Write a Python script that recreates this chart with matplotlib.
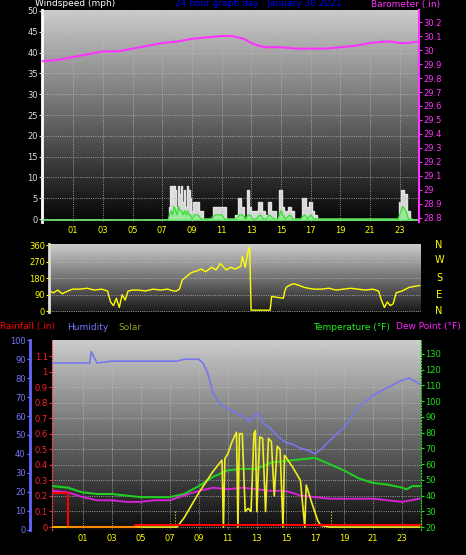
import numpy as np
import matplotlib
matplotlib.use("Agg")
import matplotlib.pyplot as plt

hours_labels = ["01","03","05","07","09","11","13","15","17","19","21","23"]
hour_ticks = [1,3,5,7,9,11,13,15,17,19,21,23]

# Barometer
baro_t = [-1.05,0,1,2,3,4,5,6,7,8,9,10,11,11.7,12.5,13,13.5,14,15,16,17,18,19,20,21,22,22.5,23,23.5,24.2]
baro_v = [29.92,29.93,29.95,29.97,29.99,29.99,30.01,30.03,30.05,30.06,30.08,30.09,30.10,30.10,30.08,30.05,30.03,30.02,30.02,30.01,30.01,30.01,30.02,30.03,30.05,30.06,30.06,30.05,30.05,30.06]

# Wind (gust, speed) by time
wind_t = [7.4,7.5,7.6,7.7,7.8,7.9,8.0,8.1,8.2,8.3,8.4,8.5,8.6,8.7,8.8,8.9,9.0,9.2,9.4,9.6,9.9,10.2,10.6,10.8,11.0,11.2,11.4,11.8,12.0,12.2,12.4,12.6,12.8,12.9,13.1,13.3,13.6,13.8,14.0,14.2,14.5,14.8,15.0,15.1,15.3,15.6,15.8,16.0,16.3,16.6,16.8,17.0,17.2,17.3,17.6,22.9,23.0,23.2,23.4,23.6,23.8]
wind_g = [0,3,8,4,8,7,3,8,6,8,4,7,3,8,7,5,2,4,4,2,0,0,3,3,3,3,0,0,1,5,3,0,7,3,2,2,4,2,1,4,2,0,7,3,2,3,2,0,0,5,3,4,2,1,0,0,4,7,6,2,0]
wind_s = [0,1,2,1,3,2,1,3,2,2,1,2,1,2,1,1,0,1,1,0,0,0,1,1,1,0,0,0,0,1,1,0,1,1,0,0,1,0,0,1,0,0,2,1,0,1,0,0,0,1,0,1,0,0,0,0,1,3,2,0,0]

# Wind direction
dir_t = [-1.05,-0.8,-0.5,-0.2,0.2,0.5,1,1.5,2,2.5,2.9,3.1,3.3,3.5,3.7,3.9,4.1,4.3,4.6,5,5.5,6,6.5,7,7.4,7.6,7.8,8,8.3,8.6,9,9.3,9.6,10,10.3,10.6,11,11.3,11.6,12,12.1,12.3,12.5,12.6,12.7,13,13.5,14.0,14.1,14.5,14.9,15.0,15.1,15.3,15.6,16,16.3,16.6,17,17.5,18,18.5,19,19.5,20,20.5,21,21.4,21.6,21.8,22.0,22.2,22.4,22.6,23,23.5,24.2]
dir_v = [110,100,115,95,110,120,120,125,115,120,110,50,30,70,20,90,60,110,115,115,110,120,115,120,110,110,120,170,190,210,220,230,215,240,225,260,225,240,230,245,300,240,330,350,5,5,5,5,80,75,70,110,130,140,150,140,130,125,120,120,125,115,120,125,120,115,120,110,60,20,50,30,40,100,110,130,140]

# Bottom panel
hum_t = [-1.05,0,1,1.5,1.6,2,3,4,5,6,7,7.5,8,9,9.3,9.6,10,10.5,11,11.5,12,12.5,13,13.5,14,14.5,15,15.5,16,16.5,17,17.5,18,19,20,21,22,23,23.5,24.2]
hum_v = [88,88,88,88,94,88,89,89,89,89,89,89,90,90,88,83,72,66,64,62,60,57,62,56,53,49,46,45,43,42,40,43,47,54,65,71,75,79,80,77]
temp_t = [-1.05,0,1,2,3,4,5,6,7,8,9,10,11,12,13,14,15,16,17,18,19,20,21,22,23,23.3,23.7,24.2]
temp_v = [46,45,42,41,41,40,39,39,39,41,46,52,56,57,57,61,62,63,64,60,56,51,48,47,45,44,46,46]
dew_t = [-1.05,0,1,2,3,4,5,6,7,8,9,10,11,12,13,14,15,16,17,18,19,20,21,22,23,24.2]
dew_v = [43,42,39,37,37,36,36,37,37,40,43,45,44,45,44,43,43,40,39,38,38,38,38,37,36,38]
rain_t = [-1.05,0.0,0.0,4.6,4.6,24.2]
rain_v = [0.22,0.22,0.0,0.0,0.01,0.01]
sol_t = [-1.05,7.5,8,8.5,9,9.5,10,10.6,10.7,10.8,11,11.3,11.6,11.7,11.8,12.0,12.2,12.4,12.6,12.8,12.9,13.0,13.2,13.4,13.6,13.8,14.0,14.2,14.4,14.6,14.8,14.9,15,15.5,16,16.3,16.4,16.8,17.2,17.4,18,24.2]
sol_v = [0,0,0.06,0.14,0.22,0.29,0.36,0.43,0.0,0.44,0.47,0.55,0.61,0.0,0.6,0.6,0.1,0.12,0.1,0.6,0.62,0.1,0.58,0.57,0.1,0.57,0.55,0.2,0.52,0.5,0.0,0.46,0.45,0.38,0.3,0.0,0.27,0.15,0.04,0.01,0,0]

XL = (-1.1, 24.3)
fig = plt.figure(figsize=(4.66,5.55), dpi=100, facecolor="black")
grad = np.linspace(1,0,256).reshape(-1,1)

def bg(ax, top=0.82, bot=0.05):
    ax.imshow(bot+(top-bot)*grad, cmap="gray", vmin=0, vmax=1, aspect="auto",
              extent=[0,1,0,1], transform=ax.transAxes, zorder=0)
    ax.set_facecolor("black")
    ax.grid(True, color="#bbbbbb", ls=":", lw=0.6, zorder=1)
    ax.set_axisbelow(False)

def style(ax, col):
    ax.tick_params(axis="y", colors=col, labelsize=6, length=2, pad=1)
    ax.tick_params(axis="x", colors="yellow", labelsize=6, length=0, pad=3)
    for s in ax.spines.values(): s.set_visible(False)

# Top panel
ax1 = fig.add_axes([42/466, 1-222/555, 377/466, 212/555])
bg(ax1, 0.8, 0.02)
ax1.set_xlim(*XL); ax1.set_ylim(-0.72, 50.24)
ax1.set_xticks(hour_ticks); ax1.set_xticklabels(hours_labels)
ax1.set_yticks(range(0,51,5))
style(ax1, "#dddddd")
ax1.spines["left"].set_visible(True); ax1.spines["left"].set_color("white"); ax1.spines["left"].set_linewidth(2)
ax1.fill_between(wind_t, wind_g, step="mid", color="#eeeeee", alpha=0.9, zorder=2)
ax1.fill_between(wind_t, wind_s, step="mid", color="#88ee88", alpha=0.7, zorder=3)
ax1.plot(wind_t, wind_s, color="#33dd33", lw=0.8, zorder=4)
ax1.axhline(-0.3, color="#77ee77", lw=1.2, zorder=3)
ax1b = ax1.twinx()
ax1b.set_ylim(28.771, 30.286)
bt = np.round(np.arange(28.8,30.21,0.1),1)
ax1b.set_yticks(bt); ax1b.set_yticklabels([f"{v:g}" for v in bt])
style(ax1b, "#ff33ff")
ax1b.spines["right"].set_visible(True); ax1b.spines["right"].set_color("#ff33ff"); ax1b.spines["right"].set_linewidth(1.5)
ax1b.plot(baro_t, baro_v, color="#ff33ff", lw=1.5)
fig.text(35/466, 1-4/555, "Windspeed (mph)", color="white", fontsize=6.5, va="center")
fig.text(258/466, 1-4/555, "24 hour graph day : January 30 2021", color="blue", fontsize=6.5, va="center", ha="center")
fig.text(440/466, 1-4/555, "Barometer (.in)", color="#ff33ff", fontsize=6.5, va="center", ha="right")

# Middle panel
ax2 = fig.add_axes([49/466, 1-312/555, 372/466, 68/555])
bg(ax2, 0.8, 0.1)
ax2.set_xlim(*XL); ax2.set_ylim(-5, 367)
ax2.set_xticks([])
ax2.set_yticks([0,90,180,270,360])
style(ax2, "yellow")
ax2.spines["left"].set_visible(True); ax2.spines["left"].set_color("#dddddd"); ax2.spines["left"].set_linewidth(2)
ax2.plot(dir_t, dir_v, color="yellow", lw=1)
for lab, y in zip("NWSEN", [245,260,278,295,311]):
    fig.text(439/466, 1-y/555, lab, color="yellow", fontsize=7, ha="center", va="center")

# Bottom panel
ax3 = fig.add_axes([52/466, 25/555, 369/466, 190/555])
bg(ax3, 0.8, 0.05)
ax3.set_xlim(*XL); ax3.set_ylim(-0.019, 1.203)
ax3.set_xticks(hour_ticks); ax3.set_xticklabels(hours_labels)
rt = np.round(np.arange(0,1.11,0.1),1)
ax3.set_yticks(rt); ax3.set_yticklabels([f"{v:g}" for v in rt])
style(ax3, "#ff2222")
ax3.spines["left"].set_visible(True); ax3.spines["left"].set_color("#ff4444"); ax3.spines["left"].set_linestyle(":")
axh = ax3.twinx()
axh.yaxis.set_ticks_position("left"); axh.yaxis.set_label_position("left")
axh.set_ylim(-0.16, 100.16); axh.set_yticks(range(0,101,10))
style(axh, "#7777ff")
axh.spines["left"].set_visible(True); axh.spines["left"].set_position(("outward", 16))
axh.spines["left"].set_color("#6666ff"); axh.spines["left"].set_linewidth(2)
axt = ax3.twinx()
axt.set_ylim(18.1, 138.9); axt.set_yticks(range(20,131,10))
style(axt, "#22dd22")
axt.spines["right"].set_visible(True); axt.spines["right"].set_color("#22dd22"); axt.spines["right"].set_linestyle(":")
axs = ax3.twinx(); axs.set_ylim(-0.019, 1.203); axs.axis("off")
axs.plot(sol_t, sol_v, color="#eeee22", lw=1.2)
axs.vlines([7.4, 18.1], 0, 0.1, color="#eeee22", lw=0.8, ls=":")
axh.plot(hum_t, hum_v, color="#7777ee", lw=1.2)
axt.plot(temp_t, temp_v, color="#22cc22", lw=1.5)
axt.plot(dew_t, dew_v, color="#dd22dd", lw=1.3)
axs.plot(rain_t, rain_v, color="red", lw=1.5)
axs.axhline(0, color="orange", lw=1.2, xmax=0.24)
fig.text(0, 1-327/555, "Rainfall (.in)", color="red", fontsize=6.5, va="center")
fig.text(67/466, 1-327/555, "Humidity", color="#7777ff", fontsize=6.5, va="center")
fig.text(118/466, 1-327/555, "Solar", color="#999922", fontsize=6.5, va="center")
fig.text(313/466, 1-327/555, "Temperature (°F)", color="#22ee22", fontsize=6.5, va="center")
fig.text(461/466, 1-327/555, "Dew Point (°F)", color="#ff22ff", fontsize=6.5, va="center", ha="right")

fig.savefig("out.png", dpi=100, facecolor="black")
